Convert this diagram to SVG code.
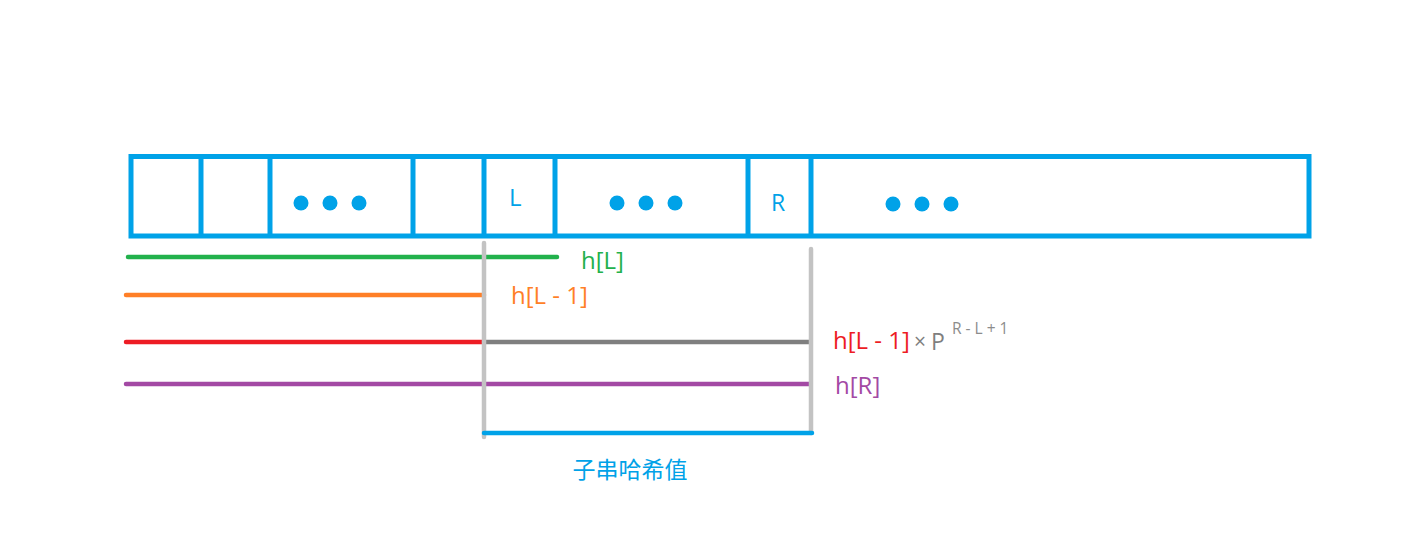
<svg xmlns="http://www.w3.org/2000/svg" width="1416" height="553" viewBox="0 0 1416 553">
<style>
.cell{fill:none;stroke:#00a2e8;stroke-width:5}
.div{stroke:#00a2e8;stroke-width:5}
.dot{fill:#00a2e8}
.ln{stroke-width:4.5;stroke-linecap:round;fill:none}
.t{font-family:"Open Sans","Noto Sans","Noto Sans CJK SC",sans-serif}
</style>
<rect width="1416" height="553" fill="#ffffff"/>
<g id="array">
<rect class="cell" x="131" y="156.5" width="1178" height="79.5"/>
<line class="div" x1="201" y1="156.5" x2="201" y2="236"/>
<line class="div" x1="270" y1="156.5" x2="270" y2="236"/>
<line class="div" x1="413" y1="156.5" x2="413" y2="236"/>
<line class="div" x1="484" y1="156.5" x2="484" y2="236"/>
<line class="div" x1="555" y1="156.5" x2="555" y2="236"/>
<line class="div" x1="748" y1="156.5" x2="748" y2="236"/>
<line class="div" x1="811" y1="156.5" x2="811" y2="236"/>
<circle class="dot" cx="301" cy="203" r="7.5"/>
<circle class="dot" cx="330" cy="203" r="7.5"/>
<circle class="dot" cx="359" cy="203" r="7.5"/>
<circle class="dot" cx="617" cy="203" r="7.5"/>
<circle class="dot" cx="646" cy="203" r="7.5"/>
<circle class="dot" cx="675" cy="203" r="7.5"/>
<circle class="dot" cx="893" cy="204" r="7.5"/>
<circle class="dot" cx="922" cy="204" r="7.5"/>
<circle class="dot" cx="951" cy="204" r="7.5"/>
<text class="t" x="509" y="206" font-size="24" fill="#00a2e8">L</text>
<text class="t" x="771" y="211" font-size="23" fill="#00a2e8">R</text>
</g>
<g id="connectors">
<line class="ln" x1="128" y1="257" x2="557" y2="257" stroke="#22b14c"/>
<line class="ln" x1="126" y1="295" x2="484" y2="295" stroke="#ff7f27"/>
<line class="ln" x1="126" y1="342" x2="484" y2="342" stroke="#ed1c24"/>
<line class="ln" x1="484" y1="342" x2="809" y2="342" stroke="#7f7f7f"/>
<line class="ln" x1="126" y1="384" x2="809" y2="384" stroke="#a349a4"/>
<line class="ln" x1="484" y1="243" x2="484" y2="437" stroke="#c3c3c3"/>
<line class="ln" x1="811" y1="249" x2="811" y2="433" stroke="#c3c3c3"/>
<line class="ln" x1="484" y1="433" x2="812" y2="433" stroke="#00a2e8"/>
</g>
<g id="labels">
<text class="t" x="581" y="269" font-size="24" fill="#22b14c">h[L]</text>
<text class="t" x="511" y="304" font-size="24" fill="#ff7f27">h[L - 1]</text>
<text class="t" x="833" y="349" font-size="24" fill="#ed1c24">h[L - 1]</text>
<text class="t" x="914" y="349" font-size="21" fill="#7f7f7f">×</text>
<text class="t" x="931" y="350" font-size="23" fill="#7f7f7f">P</text>
<text class="t" x="952" y="334" font-size="15.5" fill="#8c8c8c">R - L + 1</text>
<text class="t" x="835" y="394" font-size="24" fill="#a349a4">h[R]</text>
<text class="t" x="630" y="478" font-size="23" fill="#00a2e8" text-anchor="middle">子串哈希值</text>
</g>
</svg>
